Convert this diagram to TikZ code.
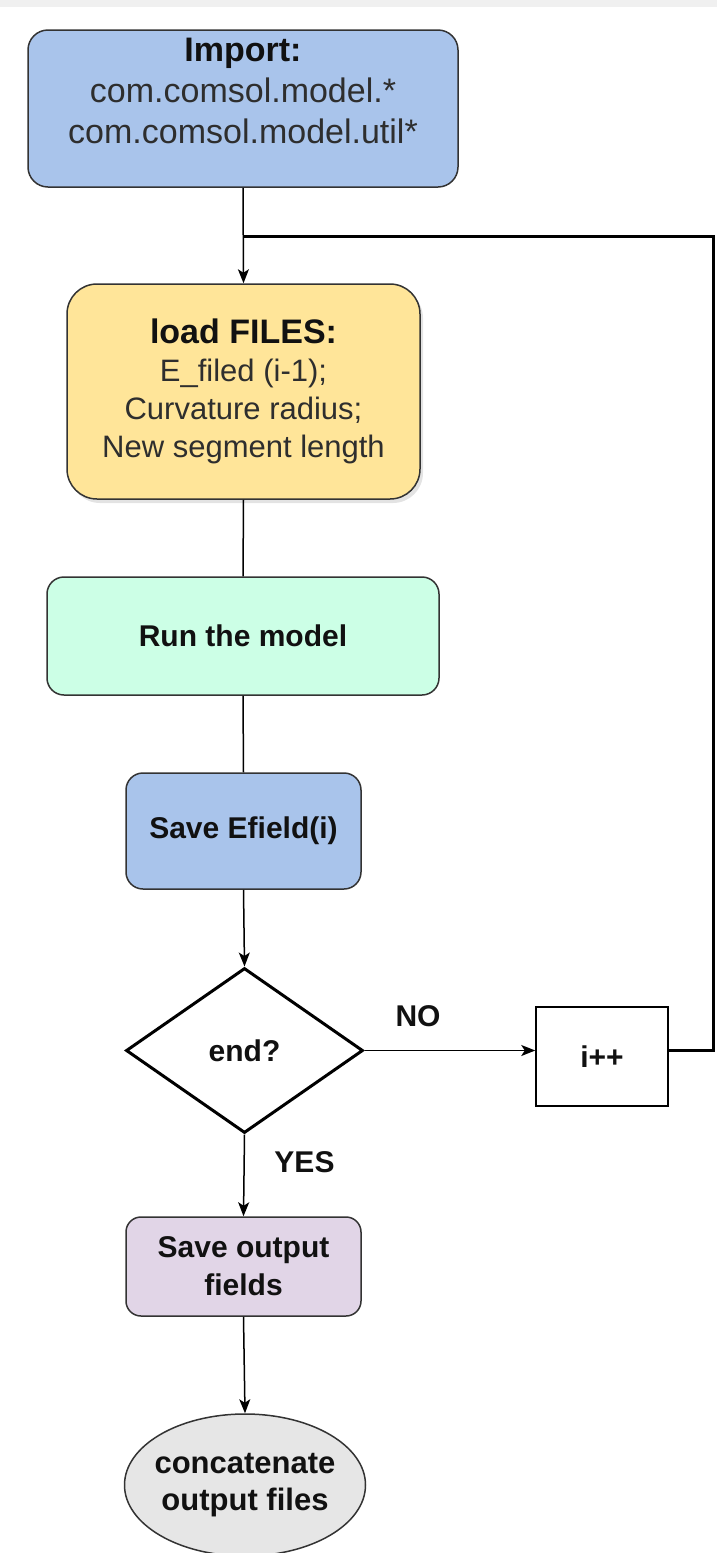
\documentclass[tikz,border=0pt]{standalone}
\usepackage{fontspec}
\setmainfont{Liberation Sans}
\usetikzlibrary{shapes.geometric,arrows.meta,shadows}
\definecolor{cblue}{HTML}{A9C4EB}
\definecolor{cyellow}{HTML}{FFE599}
\definecolor{cgreen}{HTML}{CCFFE6}
\definecolor{cpurple}{HTML}{E1D5E7}
\definecolor{cgray}{HTML}{E6E6E6}
\definecolor{cstroke}{HTML}{333333}
\definecolor{ctext}{HTML}{111111}
\definecolor{cbody}{HTML}{2E2E2E}
\definecolor{cstrip}{HTML}{F0F0F0}
\tikzset{
  proc/.style={draw=cstroke, line width=1.5pt, rounded corners=#1, align=center,
    inner sep=0pt, text=ctext},
  proc/.default=17pt,
  boldlbl/.style={font=\fontsize{30}{37}\selectfont\bfseries, text=ctext, inner sep=0pt},
  conn/.style={draw=black, line width=1.5pt},
  arr/.style={conn, -{Stealth[length=14pt,width=11pt,inset=3.5pt]}},
  loopline/.style={draw=black, line width=3pt},
}
\begin{document}
\begin{tikzpicture}[x=1pt,y=-1pt]
\useasboundingbox (0,0) rectangle (717,1553);
\fill[cstrip] (0,0) rectangle (717,7);

% nodes
\node[proc=20pt, fill=cblue, minimum width=430pt, minimum height=157pt,
  font=\fontsize{34}{41}\selectfont] (imp) at (243,108.5)
  {\raisebox{14pt}[\height][\depth]{\begin{tabular}{@{}c@{}}\textbf{\color{ctext}Import:}\\
   \color{cbody}com.comsol.model.*\\ \color{cbody}com.comsol.model.util*\end{tabular}}};

\node[proc=30pt, fill=cyellow, minimum width=353pt, minimum height=215pt,
  drop shadow={opacity=0.22, shadow xshift=3pt, shadow yshift=-4pt},
  font=\fontsize{31}{38}\selectfont] (load) at (243.5,391.5)
  {{\fontsize{34}{38}\selectfont\bfseries load FILES:}\\ \color{cbody}E\_filed (i-1);\\
   \color{cbody}Curvature radius;\\ \color{cbody}New segment length};

\node[proc=17pt, fill=cgreen, minimum width=392pt, minimum height=118pt,
  font=\fontsize{30}{37}\selectfont\bfseries] (run) at (243,636) {Run the model};

\node[proc=17pt, fill=cblue, minimum width=235pt, minimum height=116pt,
  font=\fontsize{30}{37}\selectfont\bfseries] (savee) at (243.5,831) {Save Efield(i)};

\node[diamond, draw=black, line width=3pt, fill=white, aspect=1.436,
  minimum width=237pt, minimum height=165pt, inner sep=0pt, text=ctext,
  font=\fontsize{30}{37}\selectfont\bfseries] (dec) at (244.5,1050.5) {end?};

\node[draw=black, line width=1.5pt, fill=white, minimum width=132pt, minimum height=99pt,
  inner sep=0pt, text=ctext, font=\fontsize{30}{37}\selectfont\bfseries] (inc) at (602,1056.5) {i++};

\node[proc=15pt, fill=cpurple, minimum width=235pt, minimum height=99pt,
  font=\fontsize{30}{38}\selectfont\bfseries] (saveo) at (243.5,1266.5) {Save output\\fields};

\node[ellipse, draw=cstroke, line width=1.5pt, fill=cgray, minimum width=241pt,
  minimum height=142pt, inner xsep=-20pt, inner ysep=-10pt, align=center, text=ctext,
  font=\fontsize{31}{37}\selectfont\bfseries] (conc) at (245,1485) {concatenate\\output files};

% labels
\node[boldlbl] (nolbl) at (418,1016) {NO};
\node[boldlbl] (yeslbl) at (304.5,1162.5) {YES};

% coordinates
\coordinate (jn) at (243,236);
\coordinate (rc) at (713,236);

% connectors
\draw[arr] (imp.south) -- (load.north);
\draw[conn] (load.south) -- (run.north);
\draw[conn] (run.south) -- (savee.north);
\draw[arr] (savee.south) -- (dec.north);
\draw[arr] (dec.east) -- (dec.east -| inc.west);
\draw[loopline] (dec.east -| inc.east) -- (dec.east -| rc) -- (rc) -- (jn);
\draw[arr] (dec.south) -- (saveo.north);
\draw[arr] (saveo.south) -- (conc.north);
\end{tikzpicture}
\end{document}
